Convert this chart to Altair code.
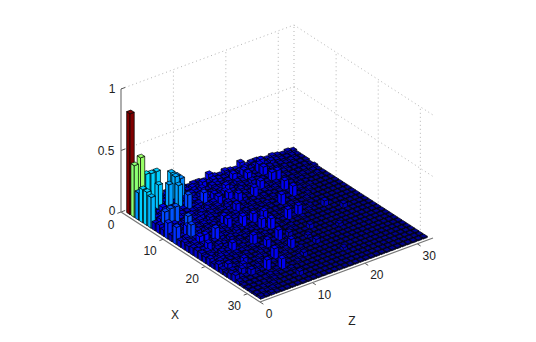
import altair as alt
import pandas as pd

alt.data_transformers.disable_max_rows()

# Bar heights in hundredths, one row per X index 1..32, values along Z index 1..32
ROW_01 = [6, 6, 5, 7, 6, 6, 5, 7, 6, 5, 7, 5, 6, 6, 5, 7, 6, 5, 7, 6, 5, 6, 5, 6, 6, 5, 4, 5, 4, 3, 4, 3]
ROW_02 = [7, 8, 7, 6, 5, 7, 6, 5, 6, 7, 6, 7, 5, 7, 6, 7, 6, 5, 6, 5, 6, 7, 5, 6, 6, 4, 5, 4, 3, 3, 3, 2]
ROW_03 = [6, 7, 6, 8, 6, 7, 6, 5, 7, 5, 6, 5, 7, 4, 6, 5, 4, 5, 6, 5, 4, 5, 3, 4, 3, 4, 3, 3, 2, 3, 2, 2]
ROW_04 = [6, 8, 7, 6, 6, 5, 7, 6, 7, 5, 4, 6, 5, 4, 5, 4, 6, 3, 5, 4, 5, 4, 3, 5, 3, 3, 2, 3, 2, 2, 2, 2]
ROW_05 = [7, 9, 7, 6, 6, 7, 5, 6, 5, 6, 5, 4, 6, 5, 6, 4, 5, 3, 4, 3, 5, 4, 3, 3, 2, 3, 3, 2, 2, 2, 2, 1]
ROW_06 = [7, 7, 8, 6, 7, 5, 6, 7, 5, 6, 4, 5, 4, 6, 5, 4, 3, 5, 3, 4, 2, 3, 3, 4, 2, 3, 2, 2, 2, 2, 1, 2]
ROW_07 = [6, 8, 6, 7, 5, 6, 6, 5, 6, 4, 5, 6, 5, 4, 5, 3, 4, 4, 3, 2, 3, 3, 2, 3, 2, 2, 2, 1, 2, 1, 2, 1]
ROW_08 = [7, 7, 8, 7, 6, 5, 6, 4, 5, 6, 4, 5, 3, 5, 4, 3, 4, 3, 2, 3, 3, 2, 3, 2, 2, 2, 1, 2, 1, 1, 2, 1]
ROW_09 = [5, 6, 7, 5, 6, 4, 5, 6, 4, 5, 3, 4, 5, 3, 4, 3, 2, 3, 2, 3, 3, 2, 2, 3, 2, 1, 2, 2, 1, 1, 1, 1]
ROW_10 = [6, 6, 5, 6, 4, 5, 6, 3, 5, 4, 3, 4, 3, 4, 3, 2, 3, 3, 2, 2, 3, 2, 2, 2, 1, 2, 1, 2, 1, 1, 1, 1]
ROW_11 = [5, 7, 4, 6, 5, 4, 5, 4, 3, 4, 5, 3, 4, 2, 3, 3, 2, 2, 3, 2, 2, 2, 2, 2, 1, 1, 2, 1, 1, 1, 1, 1]
ROW_12 = [6, 5, 6, 4, 5, 3, 4, 5, 3, 4, 3, 4, 2, 3, 2, 2, 3, 2, 2, 2, 2, 2, 2, 1, 1, 2, 1, 1, 1, 1, 1, 1]
ROW_13 = [5, 6, 5, 5, 3, 4, 5, 3, 4, 4, 3, 2, 4, 3, 2, 3, 2, 2, 2, 2, 1, 2, 1, 1, 2, 1, 1, 1, 1, 1, 1, 1]
ROW_14 = [6, 5, 6, 3, 5, 4, 3, 4, 3, 2, 4, 3, 3, 2, 3, 2, 2, 2, 1, 2, 2, 1, 2, 1, 1, 1, 1, 1, 1, 1, 1, 1]
ROW_15 = [5, 6, 5, 4, 3, 4, 4, 3, 2, 4, 3, 2, 3, 2, 3, 2, 2, 1, 2, 1, 2, 1, 1, 2, 1, 1, 1, 1, 1, 1, 1, 1]
ROW_16 = [6, 5, 6, 4, 5, 3, 2, 4, 3, 2, 3, 3, 2, 3, 2, 2, 2, 2, 1, 2, 1, 1, 2, 1, 1, 1, 1, 1, 1, 1, 1, 1]
ROW_17 = [6, 5, 6, 3, 5, 4, 3, 2, 3, 3, 2, 3, 2, 2, 2, 2, 1, 2, 1, 1, 2, 1, 1, 1, 1, 1, 1, 1, 1, 1, 1, 1]
ROW_18 = [6, 6, 3, 5, 3, 2, 3, 3, 2, 3, 2, 2, 3, 2, 2, 1, 1, 2, 1, 1, 1, 1, 1, 1, 1, 1, 1, 1, 1, 1, 1, 1]
ROW_19 = [5, 5, 3, 5, 4, 3, 2, 3, 2, 3, 2, 2, 2, 2, 1, 1, 2, 1, 1, 1, 1, 1, 1, 1, 1, 1, 1, 1, 1, 1, 1, 1]
ROW_20 = [6, 4, 5, 4, 2, 3, 3, 2, 3, 2, 2, 3, 2, 2, 1, 2, 1, 1, 1, 1, 1, 1, 1, 1, 1, 1, 1, 1, 1, 1, 1, 1]
ROW_21 = [4, 5, 3, 3, 3, 2, 3, 2, 2, 3, 2, 2, 2, 1, 2, 1, 1, 1, 1, 1, 1, 1, 1, 1, 1, 1, 1, 1, 1, 1, 1, 1]
ROW_22 = [6, 3, 4, 3, 2, 3, 2, 2, 3, 2, 2, 2, 1, 2, 1, 1, 1, 1, 1, 1, 1, 1, 1, 1, 1, 1, 1, 1, 1, 1, 1, 1]
ROW_23 = [4, 6, 3, 2, 3, 2, 2, 3, 2, 2, 2, 1, 2, 1, 1, 1, 1, 1, 1, 1, 1, 1, 1, 1, 1, 1, 1, 1, 1, 1, 1, 1]
ROW_24 = [3, 4, 3, 3, 2, 2, 3, 2, 2, 2, 1, 2, 1, 1, 2, 1, 1, 1, 1, 1, 1, 1, 1, 1, 1, 1, 1, 1, 1, 1, 1, 1]
ROW_25 = [5, 3, 6, 2, 2, 3, 2, 2, 2, 1, 2, 1, 1, 2, 1, 1, 1, 1, 1, 1, 1, 1, 1, 1, 1, 1, 1, 1, 1, 1, 1, 1]
ROW_26 = [6, 3, 2, 2, 3, 2, 2, 2, 1, 2, 1, 1, 2, 1, 1, 1, 1, 1, 1, 1, 1, 1, 1, 1, 1, 1, 1, 1, 1, 1, 1, 1]
ROW_27 = [3, 2, 2, 2, 2, 2, 1, 2, 1, 1, 1, 2, 1, 1, 1, 1, 1, 1, 1, 1, 1, 1, 1, 1, 1, 1, 1, 1, 1, 1, 1, 1]
ROW_28 = [2, 2, 2, 2, 2, 1, 2, 1, 1, 2, 1, 1, 1, 1, 1, 1, 1, 1, 1, 1, 1, 1, 1, 1, 1, 1, 1, 1, 1, 1, 1, 1]
ROW_29 = [2, 2, 2, 2, 1, 2, 1, 1, 1, 1, 1, 1, 1, 1, 1, 1, 1, 1, 1, 1, 1, 1, 1, 1, 1, 1, 1, 1, 1, 1, 1, 1]
ROW_30 = [2, 2, 2, 1, 2, 1, 1, 1, 1, 1, 1, 1, 1, 1, 1, 1, 1, 1, 1, 1, 1, 1, 1, 1, 1, 1, 1, 1, 1, 1, 1, 1]
ROW_31 = [2, 2, 1, 2, 1, 1, 1, 1, 1, 1, 1, 1, 1, 1, 1, 1, 1, 1, 1, 1, 1, 1, 1, 1, 1, 1, 1, 1, 1, 1, 1, 1]
ROW_32 = [2, 1, 2, 1, 1, 1, 1, 1, 1, 1, 1, 1, 1, 1, 1, 1, 1, 1, 1, 1, 1, 1, 1, 1, 1, 1, 1, 1, 1, 1, 1, 1]
HEIGHTS = [ROW_01, ROW_02, ROW_03, ROW_04, ROW_05, ROW_06, ROW_07, ROW_08,
           ROW_09, ROW_10, ROW_11, ROW_12, ROW_13, ROW_14, ROW_15, ROW_16,
           ROW_17, ROW_18, ROW_19, ROW_20, ROW_21, ROW_22, ROW_23, ROW_24,
           ROW_25, ROW_26, ROW_27, ROW_28, ROW_29, ROW_30, ROW_31, ROW_32]

# The taller bars: X index, Z index, height in hundredths
TALL_X = [1, 1, 2, 3, 1, 1, 1, 2, 2, 3, 3, 4, 4, 4, 5, 5, 5, 6, 8, 8, 8, 10, 12, 11, 13, 12, 15,
          6, 6, 6, 7, 7, 8, 8, 7, 9, 12, 14, 14, 16, 17, 12, 10, 16, 16, 4, 3, 1, 3, 4, 3, 2, 6, 6, 5, 1, 2,
          11, 20, 23, 24, 27, 26, 21, 15, 15, 13, 19, 19, 24, 25, 22, 18, 17, 26, 23, 23, 26, 16, 14, 6,
          20, 22, 18, 24, 26, 28, 30, 28, 20, 22]
TALL_Z = [1, 3, 1, 1, 4, 5, 6, 8, 9, 8, 9, 1, 4, 6, 1, 4, 7, 1, 2, 3, 4, 1, 1, 4, 3, 3, 6,
          8, 11, 13, 13, 15, 16, 19, 21, 24, 21, 12, 14, 14, 15, 10, 14, 21, 19, 21, 21, 22, 19, 24, 24, 25, 24, 25, 16, 16, 14,
          24, 14, 14, 10, 9, 7, 11, 3, 4, 10, 10, 6, 4, 3, 1, 1, 3, 4, 5, 2, 1, 26, 16, 15,
          20, 24, 28, 18, 14, 20, 10, 6, 16, 18]
TALL_H = [82, 43, 42, 22, 28, 27, 27, 25, 21, 24, 21, 27, 26, 23, 27, 10, 23, 25, 16, 17, 17, 13, 14, 16, 15, 12, 12,
          16, 13, 9, 9, 9, 9, 9, 9, 9, 9, 10, 9, 9, 10, 9, 8, 9, 9, 9, 9, 9, 9, 9, 9, 9, 9, 9, 9, 9, 8,
          9, 9, 8, 9, 9, 9, 8, 10, 10, 9, 9, 9, 6, 6, 6, 6, 9, 6, 7, 7, 6, 5, 8, 8,
          4, 3, 4, 4, 4, 3, 4, 3, 4, 3]

X_TICKS = [0, 10, 20, 30]
Z_TICKS = [0, 10, 20, 30]
H_TICKS = [0, 0.5, 1]
H_LABELS = ["0", "0.5", "1"]

for a, b, v in zip(TALL_X, TALL_Z, TALL_H):
    HEIGHTS[a - 1][b - 1] = v

# Fixed view of the box: page position of the origin and the shift per data unit
ORIGIN = (121.0, 212.0)
X_UNIT = (4.212, 2.727)
Z_UNIT = (5.242, -1.939)
H_UNIT = 123.0
LIM = 33
HALF = 0.4


def project(i, j, h=0.0):
    return (ORIGIN[0] + i * X_UNIT[0] + j * Z_UNIT[0],
            ORIGIN[1] + i * X_UNIT[1] + j * Z_UNIT[1] - h * H_UNIT)


rows = []
face = 0


def add_column(points, h):
    global face
    for (px, top, bottom) in points:
        rows.append(dict(f=face, h=h, x=round(px, 2), y=round(top, 2), y2=round(bottom, 2)))
    face += 1


# Paint from the far corner towards the near corner
for a in range(1, 33):
    for b in range(32, 0, -1):
        h = HEIGHTS[a - 1][b - 1] / 100
        lx, ly = project(a - HALF, b - HALF, h)
        fx, fy = project(a + HALF, b - HALF, h)
        rx, ry = project(a + HALF, b + HALF, h)
        kx, ky = project(a - HALF, b + HALF, h)
        _, ly0 = project(a - HALF, b - HALF)
        _, fy0 = project(a + HALF, b - HALF)
        _, ry0 = project(a + HALF, b + HALF)
        add_column([(lx, ly, ly0), (fx, fy, fy0)], h)
        add_column([(fx, fy, fy0), (rx, ry, ry0)], h)
        upper_at_f = ly + (ky - ly) * (fx - lx) / (kx - lx)
        lower_at_k = fy + (ry - fy) * (kx - fx) / (rx - fx)
        add_column([(lx, ly, ly), (fx, upper_at_f, fy), (kx, ky, lower_at_k), (rx, ry, ry)], h)

faces = pd.DataFrame(rows)

X_DOM = alt.Scale(domain=[8, 528], nice=False, zero=False)
Y_DOM = alt.Scale(domain=[330, 8], nice=False, zero=False)


def seg(a, b):
    return dict(x=round(a[0], 2), y=round(a[1], 2), x2=round(b[0], 2), y2=round(b[1], 2))


def rule_layer(segments, **mark):
    return alt.Chart(pd.DataFrame(segments)).mark_rule(**mark).encode(
        x=alt.X("x:Q", scale=X_DOM, axis=None),
        y=alt.Y("y:Q", scale=Y_DOM, axis=None),
        x2="x2:Q",
        y2="y2:Q",
    )


# Dotted grid on the two back walls and the box top edge
dotted = []
for t in H_TICKS[1:]:
    dotted.append(seg(project(0, 0, t), project(0, LIM, t)))
    dotted.append(seg(project(0, LIM, t), project(LIM, LIM, t)))
for t in Z_TICKS[1:]:
    dotted.append(seg(project(0, t, 0), project(0, t, 1)))
for t in X_TICKS[1:]:
    dotted.append(seg(project(t, LIM, 0), project(t, LIM, 1)))
dotted.append(seg(project(0, LIM, 0), project(0, LIM, 1)))

solid = [seg(project(0, 0, 0), project(LIM, 0, 0)),
         seg(project(LIM, 0, 0), project(LIM, LIM, 0)),
         seg(project(0, 0, 0), project(0, 0, 1))]
ticks = []
for t in X_TICKS:
    ticks.append(seg(project(t, 0), project(t, -0.7)))
for t in Z_TICKS:
    ticks.append(seg(project(LIM, t), project(LIM + 0.8, t)))
for t in H_TICKS:
    ticks.append(seg(project(0, 0, t), project(0, 0.8, t)))

labels = []
for t in X_TICKS:
    px, py = project(t, 0)
    labels.append(dict(x=px - (10 if t == 0 else 13), y=py + (13 if t == 0 else 12), t=str(t)))
for t in Z_TICKS:
    px, py = project(LIM, t)
    labels.append(dict(x=px + (9 if t == 0 else 12), y=py + 12, t=str(t)))
for t, s in zip(H_TICKS, H_LABELS):
    px, py = project(0, 0, t)
    labels.append(dict(x=px - 9 - 3 * (len(s) - 1), y=py - (1 if t == 0 else 0), t=s))
labels.append(dict(x=175, y=315, t="X"))
labels.append(dict(x=352, y=321, t="Z"))

JET_DOMAIN = [0, 0.1025, 0.3075, 0.5125, 0.7175, 0.82]
JET_RANGE = ["#000088", "#0000ff", "#00ffff", "#ffff00", "#ff0000", "#800000"]

bars = alt.Chart(faces).mark_area(stroke="#000000", strokeWidth=0.7, orient="vertical").encode(
    x=alt.X("x:Q", scale=X_DOM, axis=None),
    y=alt.Y("y:Q", scale=Y_DOM, axis=None, stack=None),
    y2="y2:Q",
    detail="f:N",
    color=alt.Color("h:Q", scale=alt.Scale(domain=JET_DOMAIN, range=JET_RANGE, interpolate="rgb"), legend=None),
)

text = alt.Chart(pd.DataFrame(labels)).mark_text(
    font="Liberation Sans", fontSize=12, color="#222222", align="center", baseline="middle"
).encode(
    x=alt.X("x:Q", scale=X_DOM, axis=None),
    y=alt.Y("y:Q", scale=Y_DOM, axis=None),
    text="t:N",
)

chart = alt.layer(
    rule_layer(dotted, color="#b5b5b5", strokeWidth=1, strokeDash=[1, 3]),
    rule_layer(ticks, color="#555555", strokeWidth=1),
    bars,
    rule_layer(solid, color="#777777", strokeWidth=1.2),
    text,
).properties(width=520, height=322, padding=0, autosize=alt.AutoSizeParams(type="none")).configure_view(stroke=None)

chart.save("out.html", embed_options={"renderer": "svg", "actions": False})
